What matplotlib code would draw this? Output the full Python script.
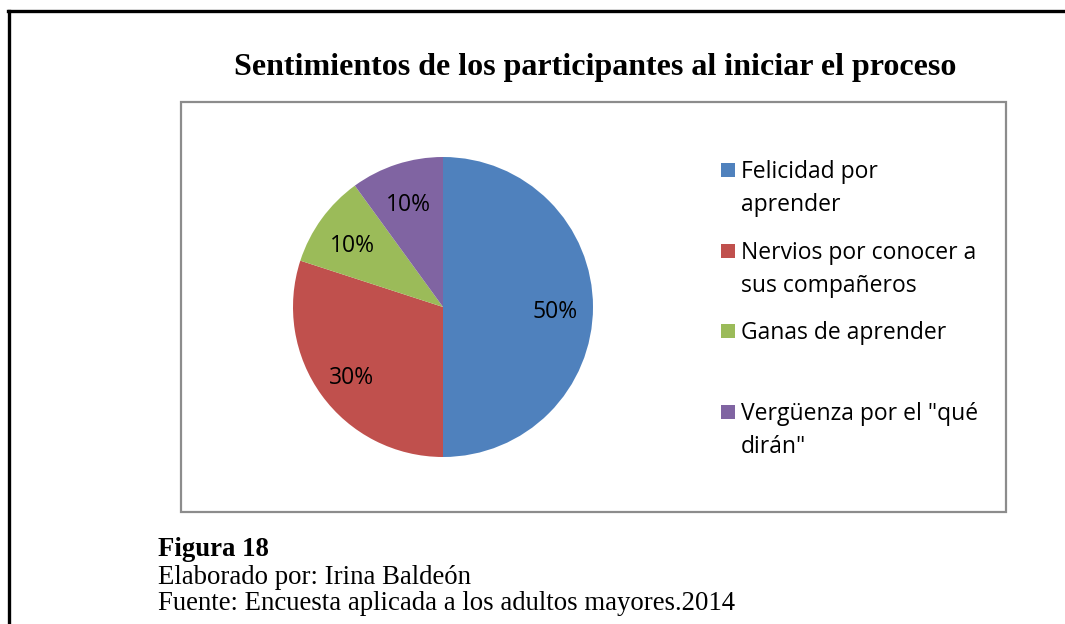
import matplotlib.pyplot as plt
from matplotlib.patches import Rectangle
from matplotlib.lines import Line2D

labels = ['Felicidad por\naprender', 'Nervios por conocer a\nsus compañeros',
          'Ganas de aprender', 'Vergüenza por el "qué\ndirán"']
values = [50, 30, 10, 10]
colors = ['#4F81BD', '#C0504D', '#9BBB59', '#8064A2']

W, H = 1065, 624
fig = plt.figure(figsize=(W / 100, H / 100), dpi=100)

def fx(px):
    return px / W

def fy(py):
    return 1 - py / H

# outer page frame (top and left only visible)
fig.add_artist(Line2D([fx(8), 1], [fy(11), fy(11)], color='black', lw=2.4))
fig.add_artist(Line2D([fx(9), fx(9)], [fy(11), 0], color='black', lw=2.4))

# chart area box
fig.add_artist(Rectangle((fx(181), fy(512)), fx(1006) - fx(181), fy(102) - fy(512),
                         fill=False, edgecolor='#8c8c8c', lw=1.6))

fig.text(fx(595), fy(68), 'Sentimientos de los participantes al iniciar el proceso',
         family='Liberation Serif', weight='bold', fontsize=23, ha='center', va='center')

# pie
r = 150
ax = fig.add_axes([fx(443 - r), fy(307 + r), 2 * r / W, 2 * r / H])
wedges, texts, autotexts = ax.pie(values, colors=colors, startangle=90, counterclock=False,
                                  autopct='%d%%', pctdistance=0.75,
                                  wedgeprops=dict(linewidth=0))
for t in autotexts:
    t.set_family('Open Sans')
    t.set_fontsize(16.5)
    t.set_color('black')
    x, y = t.get_position()
    t.set_position((x, y - 0.035))
ax.set_xlim(-1, 1)
ax.set_ylim(-1, 1)
ax.set_aspect('equal')

# legend
tops = [170, 251, 331, 412]
for lab, col, y in zip(labels, colors, tops):
    fig.add_artist(Rectangle((fx(721), fy(y + 7)), 14 / W, 14 / H,
                             facecolor=col, edgecolor='none'))
    fig.text(fx(741), fy(y - 10), lab, family='Open Sans', fontsize=16.5,
             ha='left', va='top', linespacing=1.5)

# caption
cap = dict(family='Liberation Serif', fontsize=19.3, ha='left', va='center')
fig.text(fx(158), fy(550), 'Figura 18', weight='bold', **cap)
fig.text(fx(158), fy(577), 'Elaborado por: Irina Baldeón', **cap)
fig.text(fx(158), fy(604), 'Fuente: Encuesta aplicada a los adultos mayores.2014', **cap)

fig.savefig('out.png', dpi=100, facecolor='white')
